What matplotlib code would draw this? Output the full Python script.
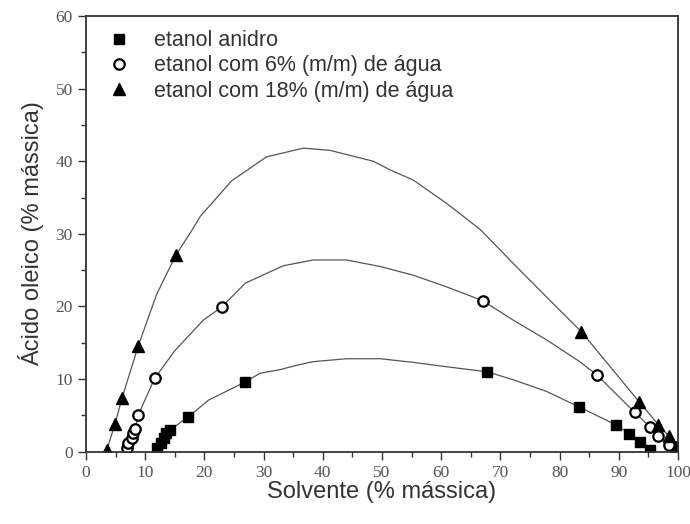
import matplotlib
matplotlib.use("Agg")
import matplotlib.pyplot as plt
from matplotlib.ticker import MultipleLocator

# measured points (x = solvente, y = acido oleico, % massica)
anidro_x = [12.0, 12.6, 13.1, 13.6, 14.2, 17.3, 26.9, 67.8, 83.2, 89.5, 91.8, 93.5, 95.3]
anidro_y = [0.5, 1.2, 1.9, 2.6, 3.0, 4.8, 9.6, 11.0, 6.2, 3.7, 2.5, 1.4, 0.3]

agua6_x = [6.9, 7.1, 7.7, 8.0, 8.3, 8.8, 11.6, 22.9, 67.0, 86.4, 92.7, 95.3, 96.7, 98.4]
agua6_y = [0.5, 1.2, 1.9, 2.6, 3.1, 5.0, 10.1, 19.9, 20.8, 10.5, 5.4, 3.4, 2.1, 0.9]

agua18_x = [3.5, 4.9, 6.1, 8.8, 15.2, 83.7, 93.4, 96.7, 98.5, 99.7]
agua18_y = [0.2, 3.8, 7.4, 14.5, 27.1, 16.5, 6.9, 3.7, 2.1, 0.7]

# binodal curves, vertices
curva_anidro_x = [12.0, 12.6, 13.1, 13.6, 14.2, 17.3, 20.7, 26.9, 29.4, 32.8, 35.6, 38.4, 44.0,
                  49.7, 55.3, 60.9, 67.8, 72.2, 77.8, 83.2, 89.5, 91.8, 93.5, 95.3]
curva_anidro_y = [0.5, 1.2, 1.9, 2.6, 3.0, 4.8, 7.1, 9.6, 10.8, 11.3, 11.9, 12.4, 12.8,
                  12.8, 12.3, 11.7, 11.0, 9.9, 8.3, 6.2, 3.7, 2.5, 1.4, 0.3]

curva_6_x = [6.9, 7.1, 7.7, 8.0, 8.3, 8.8, 11.6, 15.0, 19.8, 22.9, 26.9, 33.3, 38.4, 44.0,
             49.7, 55.3, 60.9, 67.0, 72.2, 77.8, 83.4, 86.4, 92.7, 95.3, 96.7, 98.4]
curva_6_y = [0.5, 1.2, 1.9, 2.6, 3.1, 5.0, 10.1, 13.9, 18.1, 19.9, 23.2, 25.6, 26.4, 26.4,
             25.5, 24.3, 22.7, 20.8, 18.1, 15.4, 12.4, 10.5, 5.4, 3.4, 2.1, 0.9]

curva_18_x = [3.5, 4.9, 6.1, 8.8, 11.9, 15.2, 17.9, 19.3, 24.6, 30.5, 36.7, 41.2, 48.5, 51.4,
              55.3, 60.9, 66.6, 72.2, 77.8, 83.7, 93.4, 96.7, 98.5, 99.7]
curva_18_y = [0.2, 3.8, 7.4, 14.5, 21.6, 27.1, 30.5, 32.4, 37.3, 40.6, 41.8, 41.5, 40.0, 38.8,
              37.4, 34.2, 30.6, 25.9, 21.3, 16.5, 6.9, 3.7, 2.1, 0.7]

fig = plt.figure(figsize=(6.9, 5.24), dpi=100)
ax = fig.add_axes([0.1246, 0.138, 0.858, 0.8315])

lc = '#555555'
ax.plot(curva_anidro_x, curva_anidro_y, color=lc, lw=0.9)
ax.plot(curva_6_x, curva_6_y, color=lc, lw=0.9)
ax.plot(curva_18_x, curva_18_y, color=lc, lw=0.9)

ax.plot(anidro_x, anidro_y, 's', color='black', ms=7.5, ls='none', label='etanol anidro')
ax.plot(agua6_x, agua6_y, 'o', mfc='white', mec='black', mew=1.6, ms=7.5, ls='none',
        label='etanol com 6% (m/m) de água')
ax.plot(agua18_x, agua18_y, '^', color='black', ms=9, ls='none',
        label='etanol com 18% (m/m) de água')

ax.set_xlim(0, 100)
ax.set_ylim(0, 60)
ax.xaxis.set_major_locator(MultipleLocator(10))
ax.xaxis.set_minor_locator(MultipleLocator(5))
ax.yaxis.set_major_locator(MultipleLocator(10))
ax.yaxis.set_minor_locator(MultipleLocator(5))
ax.tick_params(which='major', direction='out', length=6, width=1, color='#333333',
               labelsize=12.5, labelcolor='#555555')
ax.tick_params(which='minor', direction='out', length=3.5, width=1, color='#333333')
for lab in ax.get_xticklabels() + ax.get_yticklabels():
    lab.set_family('Liberation Serif')
for s in ax.spines.values():
    s.set_linewidth(1.3)
    s.set_color('#333333')

ax.set_xlabel('Solvente (% mássica)', family='Liberation Sans', fontsize=17,
              color='#333333', labelpad=0)
ax.set_ylabel('Ácido oleico (% mássica)', family='Liberation Sans', fontsize=17,
              color='#333333', labelpad=8)

ax.legend(loc='upper left', frameon=False, prop={'family': 'Liberation Sans', 'size': 15.5},
          bbox_to_anchor=(0.002, 1.012), handlelength=1.2, handletextpad=1.0,
          labelspacing=0.2, labelcolor='#333333')

fig.savefig('out.png', dpi=100)
